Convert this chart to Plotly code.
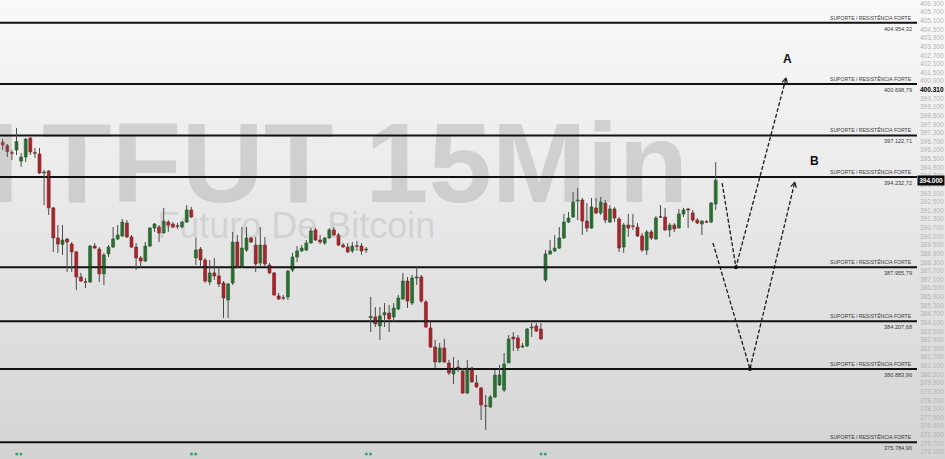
import plotly.graph_objects as go
import math

# ---------------- data ----------------
open_ = [396.64,396.41,395.92,396.11,395.34,395.62,396.94,395.93,395.83,394.51,
         394.65,392.08,389.99,389.55,389.92,389.57,389.02,387.28,386.95,386.93,
         389.43,389.22,387.49,388.88,389.36,389.92,390.13,391.03,390.06,389.36,
         388.60,388.39,389.43,390.68,390.75,390.34,391.10,390.96,390.84,390.75,
         391.10,391.94,388.60,389.22,388.46,386.93,387.56,387.35,386.86,385.68,
         386.86,389.71,387.97,389.15,389.99,389.50,388.25,389.50,388.11,387.56,
         385.96,385.84,385.89,387.76,388.67,389.09,389.15,389.64,390.55,389.85,
         389.64,389.99,390.55,390.20,389.50,389.36,389.09,389.45,389.43,389.15,
         384.44,384.50,383.87,384.64,384.77,384.50,385.05,385.75,387.00,385.47,
         387.21,387.28,385.54,383.73,382.41,381.37,382.34,381.30,380.53,381.02,
         380.74,379.21,380.95,379.91,379.56,378.33,378.24,378.93,379.77,379.42,
         381.30,383.10,383.04,382.41,382.48,383.73,383.87,383.66,387.07,388.88,
         389.09,389.29,389.99,391.10,391.45,392.56,392.63,391.17,390.68,392.08,
         391.73,392.42,391.10,392.01,391.31,389.36,390.89,390.84,390.75,390.13,
         389.15,390.41,389.92,391.47,391.45,390.55,390.89,390.68,391.66,392.01,
         391.73,391.24,390.96,391.12,391.10,392.35]
high = [396.87,396.53,396.11,397.64,395.90,396.94,397.00,396.25,396.25,394.72,
        394.72,392.15,390.89,390.89,389.99,389.71,389.09,387.56,387.21,389.50,
        389.64,389.36,388.95,389.50,390.75,390.89,391.31,391.24,390.20,389.64,
        388.74,389.71,390.75,391.03,390.89,392.08,391.24,391.10,391.03,391.17,
        392.28,392.15,389.99,389.36,388.60,388.46,388.60,387.97,387.00,386.86,
        390.41,390.20,390.75,390.75,390.06,390.06,390.75,390.06,388.25,387.63,
        386.17,386.03,387.76,388.95,389.43,389.50,389.85,390.68,390.68,390.20,
        390.06,390.68,390.75,390.34,389.64,389.64,389.71,389.78,389.64,389.36,
        385.89,385.19,385.19,385.47,385.33,385.47,386.03,387.56,387.28,387.42,
        387.97,387.42,385.68,384.15,382.90,382.69,382.97,381.51,381.71,381.51,
        380.95,381.51,381.02,380.46,379.63,379.07,379.07,380.81,381.16,381.99,
        383.24,383.45,383.24,382.69,383.73,384.08,384.08,384.08,389.15,389.85,
        390.20,390.75,391.66,391.80,393.19,393.47,392.77,392.42,392.77,392.77,
        392.84,392.63,392.28,392.15,391.45,391.03,391.66,391.66,391.03,390.34,
        390.55,390.55,391.52,392.28,392.08,391.03,391.03,392.01,392.08,392.08,
        391.94,391.38,391.24,391.24,392.49,395.27]
low = [396.11,395.62,395.41,395.76,394.93,395.27,395.76,395.55,394.44,392.28,
       391.59,389.02,388.95,388.81,387.63,387.63,386.37,386.93,386.51,386.86,
       389.25,386.93,386.72,388.67,389.29,389.85,390.06,389.99,389.29,387.76,
       387.90,388.32,389.36,390.41,389.71,390.30,390.41,390.68,390.62,390.68,
       391.03,391.38,388.11,387.97,386.86,386.72,387.07,386.58,384.43,384.43,
       386.72,387.90,387.90,389.02,389.64,387.63,387.97,387.97,387.49,385.96,
       385.68,385.68,385.68,387.63,388.32,389.02,389.09,389.60,389.78,389.57,
       389.50,389.92,390.13,389.43,389.32,388.95,388.95,389.09,388.81,388.95,
       383.45,383.80,382.90,383.80,383.45,384.15,384.98,385.68,385.12,385.33,
       386.72,385.47,383.73,382.34,380.95,381.30,381.30,380.46,379.84,380.67,
       379.14,379.14,379.91,379.56,377.33,376.64,378.17,378.86,379.70,379.28,
       381.30,382.13,382.13,382.34,382.41,383.10,383.45,382.90,386.93,388.81,
       389.02,389.22,389.92,391.03,391.38,391.24,390.20,390.41,390.62,391.66,
       391.59,391.03,391.03,391.10,389.02,388.95,390.06,390.55,390.06,389.02,
       388.81,389.85,389.85,391.38,390.48,390.06,390.41,390.65,391.45,390.68,
       391.10,390.96,390.20,391.03,391.03,391.94]
close = [396.46,396.00,395.88,396.69,395.62,396.87,395.97,395.88,394.51,394.58,
         392.08,389.99,389.57,389.85,389.71,389.02,387.28,387.00,386.91,389.43,
         389.29,387.49,388.81,389.36,389.92,390.20,391.10,390.06,389.36,388.60,
         388.39,389.43,390.68,390.96,390.34,391.17,390.89,390.75,390.80,391.10,
         391.94,391.45,389.15,388.46,387.00,387.56,387.35,386.79,385.82,386.79,
         389.71,387.97,389.29,389.99,389.71,388.18,389.50,388.18,387.56,386.03,
         385.75,385.80,387.69,388.67,389.09,389.29,389.64,390.48,389.85,389.71,
         389.99,390.55,390.20,389.50,389.36,389.02,389.43,389.41,389.09,389.22,
         384.54,384.01,384.57,384.80,384.36,385.12,385.82,387.00,385.61,387.21,
         387.28,385.61,383.80,382.41,381.37,382.34,381.37,380.60,380.95,380.88,
         379.21,380.95,379.98,379.63,378.38,378.29,378.93,380.46,380.46,381.23,
         382.97,382.97,382.34,382.48,383.66,383.80,383.52,382.97,388.88,389.09,
         389.29,389.99,391.10,391.38,392.49,392.63,391.17,390.68,392.15,391.73,
         392.49,391.24,392.01,391.38,389.29,390.89,390.68,390.80,390.13,389.15,
         390.41,389.99,391.38,391.43,390.55,390.89,390.62,391.66,391.94,391.94,
         391.24,391.03,391.17,391.08,392.42,394.00]

levels = [404.95432, 400.69879, 397.12271, 394.23272, 387.95579, 384.20768, 380.88396, 375.78496]
level_values_text = ["404.954,32", "400.698,79", "397.122,71", "394.232,72",
                     "387.955,79", "384.207,68", "380.883,96", "375.784,96"]
level_title = "SUPORTE / RESISTÊNCIA FORTE"

day_breaks = [3.5, 41.5, 79.5, 117.5]

proj_a_x = [156.4, 159.4, 170.3]
proj_a_y = [393.81, 387.955, 401.12]
proj_b_x = [154.4, 162.45, 172.2]
proj_b_y = [389.64, 380.884, 393.88]
label_a = (170.5, 402.45)
label_b = (176.4, 395.35)

last_price = 394.000
marker_price = 400.310

# ---------------- layout constants ----------------
W, H = 945, 459
ML, MR, MT, MB = 0, 28, 0, 0
PW = W - ML - MR
PH = H - MT - MB
XR = [-0.587, 198.76]
YR = [374.62, 406.54]
pxx = PW / (XR[1] - XR[0])
pxy = PH / (YR[1] - YR[0])

GREEN = "#1e8c2c"
RED = "#e3121c"

fig = go.Figure()

# gradient background (paper level)
shapes = []
N = 40
c_top, c_bot = 249, 212
for k in range(N):
    t = (k + 0.5) / N
    c = round(c_top + (c_bot - c_top) * t)
    shapes.append(dict(type="rect", xref="paper", yref="paper", x0=-0.01, x1=1.05,
                       y0=1 - (k + 1) / N, y1=1 - k / N + 0.002, layer="below",
                       line=dict(width=0), fillcolor=f"rgb({c},{c},{c})"))

# watermark (as traces so that it sits beneath the candles)
fig.add_trace(go.Scatter(x=[149.0], y=[394.45], mode="text", text=["BI\u2009TFUT 15Min"],
                         textposition="middle left", hoverinfo="skip", showlegend=False,
                         textfont=dict(family="Liberation Sans", size=114, weight="bold",
                                       color="rgba(150,150,150,0.33)")))
fig.add_trace(go.Scatter(x=[33.6], y=[390.6], mode="text", text=["Futuro De Bitcoin"],
                         textposition="middle right", hoverinfo="skip", showlegend=False,
                         textfont=dict(family="Liberation Sans", size=36,
                                       color="rgba(150,150,150,0.26)")))

# support / resistance lines
for lv in levels:
    fig.add_trace(go.Scatter(x=[XR[0], XR[1]], y=[lv, lv], mode="lines",
                             line=dict(color="#111111", width=2), hoverinfo="skip",
                             showlegend=False))

# wicks
n = len(close)
xs = list(range(n))
wx, wy = [], []
for i in xs:
    wx += [i, i, None]
    wy += [low[i], high[i], None]
fig.add_trace(go.Scatter(x=wx, y=wy, mode="lines", line=dict(color="#4a4a4a", width=1),
                         hoverinfo="skip", showlegend=False))

# bodies
def body(idx, color, edge):
    base = [min(open_[i], close[i]) for i in idx]
    hgt = [max(abs(close[i] - open_[i]), 0.03) for i in idx]
    return go.Bar(x=idx, y=hgt, base=base, width=0.64, showlegend=False,
                  marker=dict(color=color, line=dict(color=edge, width=0.6)),
                  hoverinfo="skip")

up = [i for i in xs if close[i] >= open_[i]]
dn = [i for i in xs if close[i] < open_[i]]
fig.add_trace(body(up, GREEN, "#125a1a"))
fig.add_trace(body(dn, RED, "#8a0c10"))

# projections
def chevron(px, py):
    dx = (px[-1] - px[-2]) * pxx
    dy = (py[-1] - py[-2]) * pxy
    L = math.hypot(dx, dy)
    ux, uy = dx / L, dy / L
    arm = 6.0
    hx, hy = [], []
    for ang in (math.radians(28), -math.radians(28)):
        rx = -(ux * math.cos(ang) - uy * math.sin(ang)) * arm
        ry = -(ux * math.sin(ang) + uy * math.cos(ang)) * arm
        hx += [px[-1] + rx / pxx]
        hy += [py[-1] + ry / pxy]
    return [hx[0], px[-1], hx[1]], [hy[0], py[-1], hy[1]]

for px, py in ((proj_a_x, proj_a_y), (proj_b_x, proj_b_y)):
    fig.add_trace(go.Scatter(x=px, y=py, mode="lines",
                             line=dict(color="#1a1a1a", width=1.3, dash="4px,2px"),
                             hoverinfo="skip", showlegend=False))
    cx, cy = chevron(px, py)
    fig.add_trace(go.Scatter(x=cx, y=cy, mode="lines", line=dict(color="#1a1a1a", width=1.2),
                             hoverinfo="skip", showlegend=False))
    fig.add_trace(go.Scatter(x=[px[1]], y=[py[1]], mode="markers",
                             marker=dict(color="#111111", size=4), hoverinfo="skip",
                             showlegend=False))

# day separator dots
dx_, dy_ = [], []
for b in day_breaks:
    dx_ += [b - 0.45, b + 0.45]
    dy_ += [374.97, 374.97]
fig.add_trace(go.Scatter(x=dx_, y=dy_, mode="markers",
                         marker=dict(color="#36a46c", size=3), hoverinfo="skip",
                         showlegend=False))

annotations = []
for lv, txt in zip(levels, level_values_text):
    annotations.append(dict(xref="paper", x=0.997, y=lv, yref="y", xanchor="right",
                            yanchor="bottom", text=level_title, showarrow=False, yshift=0,
                            font=dict(family="Liberation Sans", size=5.1, color="#3a3a3a")))
    annotations.append(dict(xref="paper", x=0.997, y=lv, yref="y", xanchor="right",
                            yanchor="top", text=txt, showarrow=False, yshift=-1,
                            font=dict(family="Liberation Sans", size=5.6, color="#3a3a3a")))

annotations.append(dict(xref="paper", x=1.0, y=marker_price, yref="y", xanchor="left",
                        yanchor="middle", text=f"<b>{marker_price:.3f}</b>", showarrow=False,
                        xshift=1, bgcolor="rgb(240,240,240)", borderpad=1,
                        font=dict(family="Liberation Sans", size=6.5, color="#000000")))
annotations.append(dict(xref="paper", x=1.0, y=last_price, yref="y", xanchor="left",
                        yanchor="middle", text=f"<b>{last_price:.3f}</b>", showarrow=False,
                        xshift=0, bgcolor="#0d0d0d", borderpad=1.2,
                        font=dict(family="Liberation Sans", size=6.5, color="#ffffff")))
for (lx, ly), t in ((label_a, "A"), (label_b, "B")):
    annotations.append(dict(x=lx, y=ly, xref="x", yref="y", text=f"<b>{t}</b>",
                            showarrow=False,
                            font=dict(family="Liberation Sans", size=12, color="#111111")))

fig.update_layout(
    width=W, height=H,
    margin=dict(l=ML, r=MR, t=MT, b=MB, pad=0),
    paper_bgcolor="rgb(232,232,232)",
    plot_bgcolor="rgba(0,0,0,0)",
    barmode="overlay",
    shapes=shapes,
    annotations=annotations,
    showlegend=False,
    xaxis=dict(range=XR, showgrid=False, zeroline=False, showticklabels=False,
               ticks="", showline=False, fixedrange=True),
    yaxis=dict(range=YR, side="right", showgrid=False, zeroline=False, showline=False,
               tick0=375.1, dtick=0.6, tickformat=".3f", ticks="", ticklabelstandoff=2,
               ticklabeloverflow="allow",
               tickfont=dict(family="Liberation Sans", size=6.5, color="#b4b4b4"),
               fixedrange=True),
)

fig.write_html("out.html", config={"displayModeBar": False},
               post_script="document.body.style.margin='0';document.body.style.overflow='hidden';")
